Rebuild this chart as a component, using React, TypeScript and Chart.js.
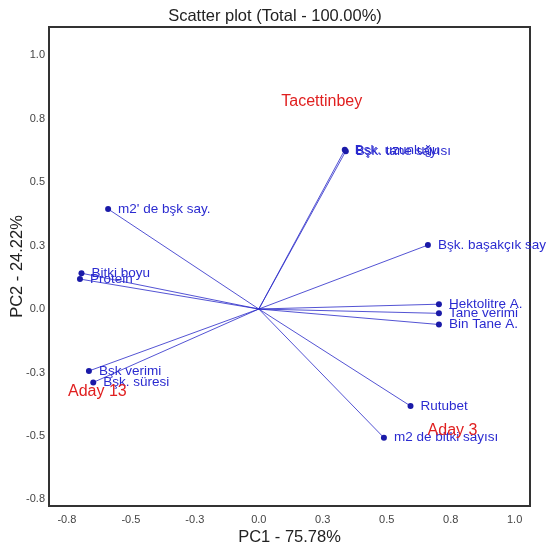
import React, { useEffect, useRef } from "react";
import { Chart, registerables } from "chart.js";

Chart.register(...registerables);

const variables = [
  "Bşk. uzunluğu",
  "Bşk. tane sayısı",
  "Bşk. başakçık say",
  "m2' de bşk say.",
  "Bitki boyu",
  "Protein",
  "Hektolitre A.",
  "Tane verimi",
  "Bin Tane A.",
  "Bşk verimi",
  "Bşk. süresi",
  "Rutubet",
  "m2 de bitki sayısı",
];
const pc1Loadings = [0.336, 0.34, 0.661, -0.589, -0.693, -0.699, 0.704, 0.704, 0.704, -0.664, -0.647, 0.593, 0.489];
const pc2Loadings = [0.627, 0.622, 0.252, 0.394, 0.141, 0.118, 0.019, -0.017, -0.061, -0.244, -0.289, -0.382, -0.507];

const genotypes = ["Tacettinbey", "Aday 13", "Aday 3"];
const pc1Scores = [0.246, -0.631, 0.757];
const pc2Scores = [0.817, -0.327, -0.477];

const xTicks = [-0.75, -0.5, -0.25, 0, 0.25, 0.5, 0.75, 1.0];
const yTicks = [-0.75, -0.5, -0.25, 0, 0.25, 0.5, 0.75, 1.0];

const FONT = "'Liberation Sans', Arial, Helvetica, sans-serif";

export default function App() {
  const ref = useRef<HTMLCanvasElement>(null);

  useEffect(() => {
    if (!ref.current) return;

    const vectorSets = variables.map((name, i) => ({
      type: "line" as const,
      label: name,
      data: [
        { x: 0, y: 0 },
        { x: pc1Loadings[i], y: pc2Loadings[i] },
      ],
      borderColor: "rgba(40,40,200,0.8)",
      borderWidth: 1,
      pointRadius: [0, 3],
      pointBackgroundColor: "#1a1aa8",
      pointBorderColor: "#1a1aa8",
      pointBorderWidth: 0,
      fill: false,
      tension: 0,
    }));

    const genoSet = {
      type: "scatter" as const,
      label: "genotypes",
      data: genotypes.map((g, i) => ({ x: pc1Scores[i], y: pc2Scores[i] })),
      pointRadius: 0,
      showLine: false,
    };

    const framePlugin = {
      id: "frame",
      beforeDatasetsDraw(chart: any) {
        const { ctx, chartArea } = chart;
        ctx.save();
        ctx.strokeStyle = "#333333";
        ctx.lineWidth = 2;
        ctx.strokeRect(chartArea.left, chartArea.top, chartArea.right - chartArea.left, chartArea.bottom - chartArea.top);
        ctx.restore();
      },
    };

    const labelPlugin = {
      id: "labels",
      afterDatasetsDraw(chart: any) {
        const { ctx } = chart;
        ctx.save();
        ctx.textBaseline = "middle";
        ctx.textAlign = "left";
        ctx.font = `13.5px ${FONT}`;
        ctx.fillStyle = "#2b2bd0";
        variables.forEach((name, i) => {
          const meta = chart.getDatasetMeta(i);
          const pt = meta.data[1];
          ctx.fillText(name, pt.x + 10, pt.y);
        });
        const gMeta = chart.getDatasetMeta(variables.length);
        ctx.textAlign = "center";
        ctx.font = `16px ${FONT}`;
        ctx.fillStyle = "#e02020";
        genotypes.forEach((g, i) => {
          const pt = gMeta.data[i];
          ctx.fillText(g, pt.x, pt.y);
        });
        ctx.restore();
      },
    };

    const chart = new Chart(ref.current, {
      type: "line",
      data: { datasets: [...vectorSets, genoSet] as any },
      options: {
        animation: false,
        responsive: false,
        maintainAspectRatio: false,
        layout: { padding: { left: 0, right: 0, top: 0, bottom: 0 } },
        plugins: {
          legend: { display: false },
          tooltip: { enabled: false },
          title: {
            display: true,
            text: "Scatter plot (Total - 100.00%)",
            color: "#222222",
            font: { family: FONT, size: 16.5, weight: "normal" },
            padding: { top: 7, bottom: 0.2 },
          },
        },
        scales: {
          x: {
            type: "linear",
            min: -0.82,
            max: 1.06,
            grid: { display: false, drawTicks: false, tickLength: 0 },
            border: { display: false },
            afterBuildTicks: (scale: any) => {
              scale.ticks = xTicks.map((v) => ({ value: v }));
            },
            afterFit: (scale: any) => {
              scale.height = 41;
            },
            ticks: {
              padding: 7,
              color: "#444444",
              font: { family: FONT, size: 11 },
              maxRotation: 0,
              autoSkip: false,
              callback: (v: any) => Number(v).toFixed(1),
            },
            title: {
              display: true,
              text: "PC1 - 75.78%",
              color: "#222222",
              font: { family: FONT, size: 16.5 },
              padding: { top: 0, bottom: 0 },
            },
          },
          y: {
            type: "linear",
            min: -0.776,
            max: 1.111,
            grid: { display: false, drawTicks: false, tickLength: 0 },
            border: { display: false },
            afterBuildTicks: (scale: any) => {
              scale.ticks = yTicks.map((v) => ({ value: v }));
            },
            afterFit: (scale: any) => {
              scale.width = 49;
            },
            ticks: {
              padding: 4,
              color: "#444444",
              font: { family: FONT, size: 11 },
              autoSkip: false,
              callback: (v: any) => Number(v).toFixed(1),
            },
            title: {
              display: true,
              text: "PC2 - 24.22%",
              color: "#222222",
              font: { family: FONT, size: 16.5 },
              padding: { top: 8, bottom: 0 },
            },
          },
          yRight: {
            type: "linear",
            position: "right",
            min: -0.776,
            max: 1.111,
            display: true,
            grid: { display: false, drawTicks: false, tickLength: 0 },
            border: { display: false },
            ticks: { display: false },
            afterFit: (scale: any) => {
              scale.width = 20;
            },
          },
        },
      },
      plugins: [framePlugin, labelPlugin],
    });

    return () => chart.destroy();
  }, []);

  return (
    <div style={{ position: "absolute", left: 0, top: 0, width: 550, height: 547, background: "#ffffff" }}>
      <canvas ref={ref} width={550} height={547} style={{ display: "block" }} />
    </div>
  );
}
